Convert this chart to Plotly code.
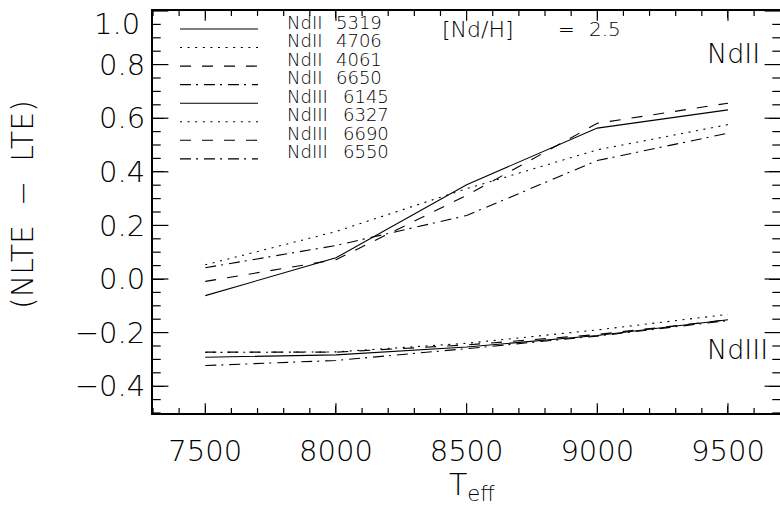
import numpy as np
import plotly.graph_objects as go

# ---------------- data ----------------
teff = [7500, 8000, 8500, 9000, 9500]

ndii_5319 = [-0.062, 0.079, 0.352, 0.563, 0.631]
ndii_4706 = [0.053, 0.177, 0.337, 0.482, 0.576]
ndii_4061 = [-0.009, 0.072, 0.312, 0.581, 0.656]
ndii_6650 = [0.042, 0.125, 0.237, 0.442, 0.544]

ndiii_6145 = [-0.292, -0.283, -0.254, -0.211, -0.152]
ndiii_6327 = [-0.274, -0.272, -0.240, -0.190, -0.132]
ndiii_6690 = [-0.273, -0.273, -0.246, -0.207, -0.152]
ndiii_6550 = [-0.323, -0.304, -0.260, -0.213, -0.155]

ion_names = ["NdII", "NdII", "NdII", "NdII", "NdIII", "NdIII", "NdIII", "NdIII"]
wavelengths = ["5319", "4706", "4061", "6650", "6145", "6327", "6690", "6550"]
series = [ndii_5319, ndii_4706, ndii_4061, ndii_6650,
          ndiii_6145, ndiii_6327, ndiii_6690, ndiii_6550]

y_ticks = [-0.4, -0.2, 0.0, 0.2, 0.4, 0.6, 0.8, 1.0]
y_ticktext = ["\u22120.4", "\u22120.2", "0.0", "0.2", "0.4", "0.6", "0.8", ""]
x_ticks = [7500, 8000, 8500, 9000, 9500]

# ---------------- styles / layout ----------------
W, H = 780, 512
ML, MR, MT, MB = 153, 0, 11, 99
PW, PH = W - ML - MR, H - MT - MB
XPX_PER_500 = 131.3
X0 = 7300
X1 = X0 + (PW + 3) * 500 / XPX_PER_500
Y0, Y1 = -0.5, 1.0
X_MINOR, Y_MINOR = 100, 0.05

dashes = ["solid", "2px,5.6px", "11px,11px", "11px,5px,2px,6px"]
FONT = "DejaVu Sans"
FW = 200


def px(xp):
    return (xp - ML) / PW


def py(yp):
    return (MT + PH - yp) / PH


fig = go.Figure()
for i, vals in enumerate(series):
    fig.add_trace(go.Scatter(
        x=teff, y=vals, mode="lines",
        name=f"{ion_names[i]} {wavelengths[i]}",
        line=dict(color="black", width=1.1, dash=dashes[i % 4]),
        showlegend=False,
    ))

# inward tick marks on all four sides (markers centred on the frame, clipped to the plot area)
x_minor = [v for v in np.arange(X0, X1, X_MINOR) if v not in x_ticks]
y_minor = [round(v, 3) for v in np.arange(Y0, Y1 + 1e-9, Y_MINOR)
           if round(v, 3) not in y_ticks]


def tick_trace(xs, ys, symbol, size):
    return go.Scatter(x=xs, y=ys, mode="markers", showlegend=False, hoverinfo="skip",
                      cliponaxis=True,
                      marker=dict(symbol=symbol, size=size, color="black",
                                  line=dict(color="black", width=1.2)))


for yedge in (Y0, Y1):
    fig.add_trace(tick_trace(x_ticks, [yedge] * len(x_ticks), "line-ns", 14))
    fig.add_trace(tick_trace(x_minor, [yedge] * len(x_minor), "line-ns", 7))
for xedge in (X0, X1):
    fig.add_trace(tick_trace([xedge] * len(y_ticks), y_ticks, "line-ew", 22))
    fig.add_trace(tick_trace([xedge] * len(y_minor), y_minor, "line-ew", 11))

shapes = []
annotations = []

# legend drawn as keys + labels
row0, dy = 29.0, 18.55
LFS = 18
for i in range(8):
    yline = row0 + i * dy
    shapes.append(dict(type="line", xref="paper", yref="paper",
                       x0=px(180), x1=px(258), y0=py(yline), y1=py(yline),
                       line=dict(color="black", width=1.1, dash=dashes[i % 4])))
    ytxt = yline - 7.0
    annotations.append(dict(text=ion_names[i], xref="paper", yref="paper",
                            x=px(286), y=py(ytxt), xanchor="left", yanchor="middle",
                            showarrow=False, borderpad=0,
                            font=dict(family=FONT, size=LFS, color="black", weight=FW)))
    xnum = 335 if ion_names[i] == "NdII" else 342
    annotations.append(dict(text=wavelengths[i], xref="paper", yref="paper",
                            x=px(xnum), y=py(ytxt), xanchor="left", yanchor="middle",
                            showarrow=False, borderpad=0,
                            font=dict(family=FONT, size=LFS, color="black", weight=FW)))

# [Nd/H] = 2.5
for txt, xx, anc in [("[Nd/H]", 440, "left"), ("=", 566, "center"), ("2.5", 587, "left")]:
    annotations.append(dict(text=txt, xref="paper", yref="paper", x=px(xx), y=py(29),
                            xanchor=anc, yanchor="middle", showarrow=False,
                            font=dict(family=FONT, size=22 if txt == "[Nd/H]" else 20,
                                      color="black", weight=FW)))

# ion labels on the right
annotations.append(dict(text="NdII", xref="paper", yref="paper", x=px(705), y=py(53.5),
                        xanchor="left", yanchor="middle", showarrow=False,
                        font=dict(family=FONT, size=27, color="black", weight=FW)))
annotations.append(dict(text="NdIII", xref="paper", yref="paper", x=px(705), y=py(349),
                        xanchor="left", yanchor="middle", showarrow=False,
                        font=dict(family=FONT, size=27, color="black", weight=FW)))

# "1.0" top label (sits a bit below the top axis in the reference)
annotations.append(dict(text="1.0", xref="paper", yref="paper", x=px(142), y=py(24),
                        xanchor="right", yanchor="middle", showarrow=False,
                        font=dict(family=FONT, size=29, color="black", weight=FW)))

# axis titles
annotations.append(dict(text="(NLTE\u00a0\u00a0\u2212\u00a0\u00a0LTE)", xref="paper", yref="paper",
                        x=px(22), y=py(205), xanchor="center", yanchor="middle",
                        textangle=-90, showarrow=False,
                        font=dict(family=FONT, size=30, color="black", weight=FW)))
annotations.append(dict(text="T<sub>eff</sub>", xref="paper", yref="paper",
                        x=px(472), y=py(486), xanchor="center", yanchor="middle",
                        showarrow=False,
                        font=dict(family=FONT, size=30, color="black", weight=FW)))

fig.update_layout(
    width=W, height=H,
    margin=dict(l=ML, r=MR, t=MT, b=MB, pad=0, autoexpand=False),
    paper_bgcolor="white", plot_bgcolor="white",
    font=dict(family=FONT, size=29, color="black", weight=FW),
    hovermode=False,
    xaxis=dict(
        range=[X0, X1], tickmode="array", tickvals=x_ticks,
        ticks="inside", ticklen=7, tickwidth=1.2, tickcolor="black",
        showline=True, linewidth=2, linecolor="black", mirror="allticks",
        showgrid=False, zeroline=False, automargin=False,
        ticklabelstandoff=11,
        tickfont=dict(family=FONT, size=29, color="black", weight=FW),
    ),
    yaxis=dict(
        range=[Y0, Y1], tickmode="array", tickvals=y_ticks, ticktext=y_ticktext,
        ticks="inside", ticklen=11, tickwidth=1.2, tickcolor="black",
        showline=True, linewidth=2, linecolor="black", mirror="allticks",
        showgrid=False, zeroline=False, automargin=False,
        ticksuffix="\u00a0",
        tickfont=dict(family=FONT, size=29, color="black", weight=FW),
    ),
    shapes=shapes,
    annotations=annotations,
)

fig.write_html("out.html", config={"displayModeBar": False},
               post_script="document.body.style.margin='0';")
